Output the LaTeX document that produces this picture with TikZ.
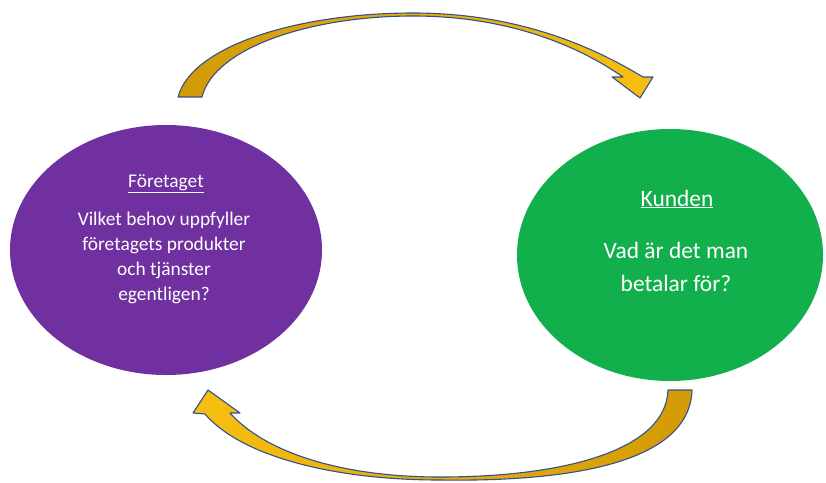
\documentclass[tikz,border=0pt]{standalone}
\usepackage{fontspec}
\setmainfont{Carlito}
\usetikzlibrary{shapes.geometric}
\definecolor{ppurple}{HTML}{7030A0}
\definecolor{pgreen}{HTML}{12B04C}
\definecolor{golddark}{HTML}{D29B06}
\definecolor{goldlight}{HTML}{F7BF10}
\definecolor{edgeblue}{HTML}{34508E}
\tikzset{
  blob/.style={ellipse, inner sep=0pt, draw=none},
  title/.style={text=white, font=\fontsize{#1}{#1}\selectfont},
  body/.style={text=white, align=center},
  arrowshape/.style={draw=edgeblue, line width=1.1pt, line join=round}
}
\begin{document}
\begin{tikzpicture}[x=1pt,y=-1pt]
\useasboundingbox[fill=white] (0,0) rectangle (826,482);
% ellipses
\node[blob, fill=ppurple, minimum width=312pt, minimum height=250pt] (foretaget) at (166,250) {};
\node[blob, fill=pgreen, minimum width=306pt, minimum height=252pt] (kunden) at (670,255) {};
% texts
\node[title=19.4] (ftitle) at (166,184) {\underline{Företaget}};
\node[body, font=\fontsize{19.4}{25}\selectfont] (fbody) at (164,258) {Vilket behov uppfyller\\företagets produkter\\och tjänster\\egentligen?};
\node[title=23.4] (ktitle) at (677,199) {\underline{Kunden}};
\node[body, font=\fontsize{23.4}{33}\selectfont] (kbody) at (676,267) {Vad är det man\\betalar för?};
% top curved arrow
\path[arrowshape, left color=golddark, right color=goldlight]
  (178,97) .. controls (192,45) and (300,13) .. (413,13)
  .. controls (520,13) and (595,48) .. (643,77)
  -- (653,77) -- (640,98) -- (612,77) -- (623,77)
  .. controls (580,47) and (510,16) .. (413,16)
  .. controls (310,16) and (214,48) .. (202,97) -- cycle;
% bottom curved arrow
\path[arrowshape, right color=golddark, left color=goldlight]
  (692,390) .. controls (690,460) and (580,482) .. (440,480)
  .. controls (330,480) and (240,455) .. (205,414)
  -- (193,413) -- (208,390) -- (240,413) -- (230,413)
  .. controls (265,452) and (340,477) .. (440,477)
  .. controls (565,477) and (666,450) .. (668,390) -- cycle;
\end{tikzpicture}
\end{document}
